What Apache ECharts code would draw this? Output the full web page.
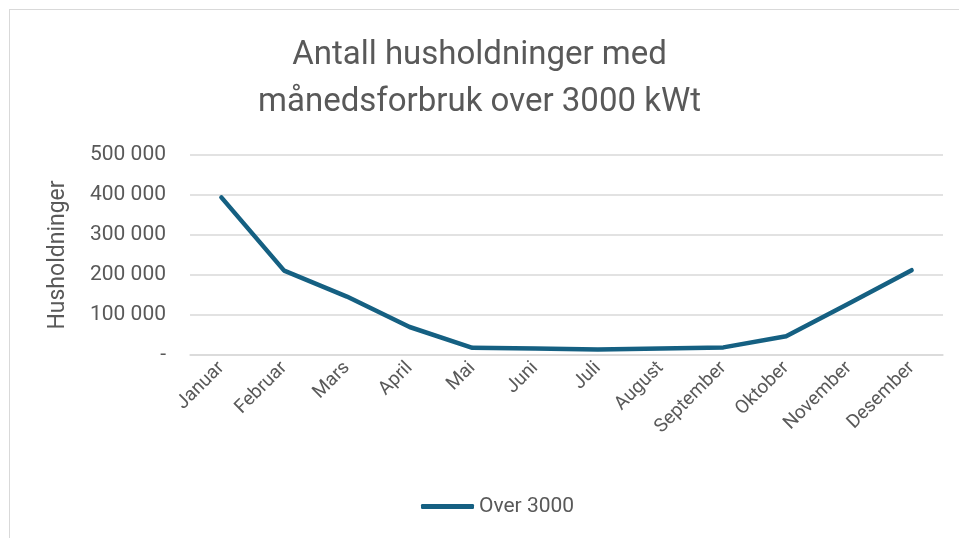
<!DOCTYPE html>
<html>
<head>
<meta charset="utf-8">
<script src="https://cdn.jsdelivr.net/npm/echarts@6/dist/echarts.min.js"></script>
<style>
  html, body { margin: 0; padding: 0; background: #fff; }
  #frame { position: absolute; left: 9px; top: 9px; width: 960px; height: 540px; border: 1px solid #d9d9d9; box-sizing: border-box; }
  #myChart { position: absolute; left: 0; top: 0; width: 959px; height: 538px; }
</style>
</head>
<body>
<div id="frame"></div>
<div id="myChart"></div>
<script>
// måneder
var maaneder = ['Januar', 'Februar', 'Mars', 'April', 'Mai', 'Juni', 'Juli', 'August', 'September', 'Oktober', 'November', 'Desember'];
// antall husholdninger over 3000 kWt
var over3000 = [394000, 211000, 146000, 70000, 18000, 16000, 14000, 16000, 19000, 47000, 129000, 212000];
var yTicks = [0, 100000, 200000, 300000, 400000, 500000];

var tekst = '#595959';
var myChart = echarts.init(document.getElementById('myChart'));

function fmt(v) {
    if (v === 0) return '-';
    return String(v).replace(/\B(?=(\d{3})+(?!\d))/g, ' ');
}

myChart.setOption({
    animation: false,
    title: {
        text: 'Antall husholdninger med\nmånedsforbruk over 3000 kWt',
        left: 'center',
        top: 27,
        textStyle: {
            color: tekst,
            fontSize: 33,
            fontWeight: 'normal',
            fontFamily: 'Roboto, sans-serif',
            lineHeight: 47
        }
    },
    legend: {
        data: ['Over 3000'],
        bottom: 16,
        left: 416,
        icon: 'roundRect',
        itemWidth: 53,
        itemHeight: 5,
        itemGap: 4,
        textStyle: { color: tekst, fontSize: 21, fontFamily: 'Roboto, sans-serif' }
    },
    grid: { left: 190, right: 16, top: 155, bottom: 183, containLabel: false },
    xAxis: {
        type: 'category',
        data: maaneder,
        boundaryGap: true,
        axisTick: { show: false },
        axisLine: { lineStyle: { color: '#d9d9d9', width: 1.5 } },
        axisLabel: {
            rotate: 45,
            interval: 0,
            margin: 10,
            color: tekst,
            fontSize: 19,
            fontFamily: 'Roboto, sans-serif'
        }
    },
    yAxis: {
        type: 'value',
        min: yTicks[0],
        max: yTicks[yTicks.length - 1],
        interval: 100000,
        name: 'Husholdninger',
        nameLocation: 'middle',
        nameGap: 120,
        nameTextStyle: { color: tekst, fontSize: 23, fontFamily: 'Roboto, sans-serif' },
        axisLine: { show: false },
        axisTick: { show: false },
        axisLabel: {
            margin: 24,
            color: tekst,
            fontSize: 21,
            fontFamily: 'Roboto, sans-serif',
            formatter: fmt
        },
        splitLine: { lineStyle: { color: '#d9d9d9', width: 1.5 } }
    },
    series: [
        {
            name: 'Over 3000',
            type: 'line',
            data: over3000,
            symbol: 'none',
            smooth: false,
            itemStyle: { color: '#156082' },
            lineStyle: { color: '#156082', width: 4.5, cap: 'round', join: 'round' }
        }
    ]
});
</script>
</body>
</html>
